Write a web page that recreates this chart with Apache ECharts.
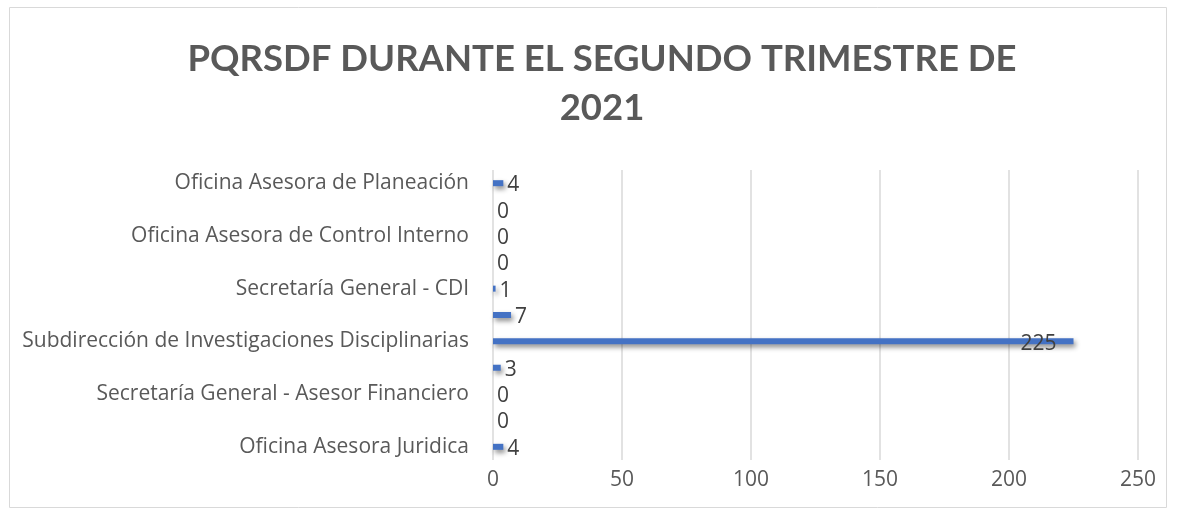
<!DOCTYPE html>
<html>
<head>
<meta charset="utf-8">
<script src="https://cdn.jsdelivr.net/npm/echarts@6/dist/echarts.min.js"></script>
<style>
  html, body { margin: 0; padding: 0; background: #fff; }
  #chart { width: 1177px; height: 512px; }
</style>
</head>
<body>
<div id="chart"></div>
<script>
// categorias de abajo hacia arriba (solo una de cada dos se ve en el eje)
const categorias = [
  'Oficina Asesora Juridica',
  'Oficina de Comunicaciones',
  'Secretaría General - Asesor Financiero',
  'Secretaría General - Talento Humano',
  'Subdirección de Investigaciones Disciplinarias',
  'Subdirección Administrativa',
  'Secretaría General - CDI',
  'Secretaría General - Contratación',
  'Oficina Asesora de Control Interno',
  'Dirección',
  'Oficina Asesora de Planeación'
];
const valores = [4, 0, 0, 3, 225, 7, 1, 0, 0, 0, 4];
const ticksX = [0, 50, 100, 150, 200, 250];

const chart = echarts.init(document.getElementById('chart'));

const option = {
  animation: false,
  title: {
    text: 'PQRSDF DURANTE EL SEGUNDO TRIMESTRE DE\n2021',
    left: 597,
    textAlign: 'center',
    top: 30,
    textStyle: {
      fontFamily: 'Lato',
      fontSize: 36.5,
      fontWeight: 'bold',
      color: '#595959',
      lineHeight: 49
    }
  },
  graphic: [{
    type: 'rect',
    shape: { x: 9.5, y: 7.5, width: 1157, height: 500 },
    style: { fill: 'none', stroke: '#d9d9d9', lineWidth: 1 },
    silent: true
  }],
  grid: { left: 493, right: 39, top: 170, height: 290 },
  xAxis: {
    type: 'value',
    min: ticksX[0],
    max: ticksX[ticksX.length - 1],
    interval: 50,
    axisLine: { show: false },
    axisTick: { show: false },
    splitLine: { lineStyle: { color: '#d9d9d9', width: 1.5 } },
    axisLabel: { color: '#595959', fontFamily: 'Open Sans', fontSize: 21, margin: 10 }
  },
  yAxis: {
    type: 'category',
    data: categorias,
    axisLine: { show: false },
    axisTick: { show: false },
    axisLabel: {
      interval: 1,
      color: '#595959',
      fontFamily: 'Open Sans',
      fontSize: 21,
      margin: 24,
      verticalAlign: 'middle',
      padding: [0, 0, 10, 0]
    }
  },
  series: [{
    type: 'bar',
    data: valores.map(function (v) {
      if (v === 225) {
        return {
          value: v,
          label: { position: 'insideRight', distance: 17, offset: [0, 3] }
        };
      }
      return v;
    }),
    barWidth: 6,
    itemStyle: {
      color: '#4472c4',
      shadowColor: 'rgba(0,0,0,0.45)',
      shadowBlur: 5,
      shadowOffsetX: 2,
      shadowOffsetY: 3
    },
    label: {
      show: true,
      position: 'right',
      distance: 4,
      offset: [0, 2],
      color: '#404040',
      fontFamily: 'Open Sans',
      fontSize: 21
    }
  }]
};

chart.setOption(option);
window.onresize = chart.resize;
</script>
</body>
</html>
